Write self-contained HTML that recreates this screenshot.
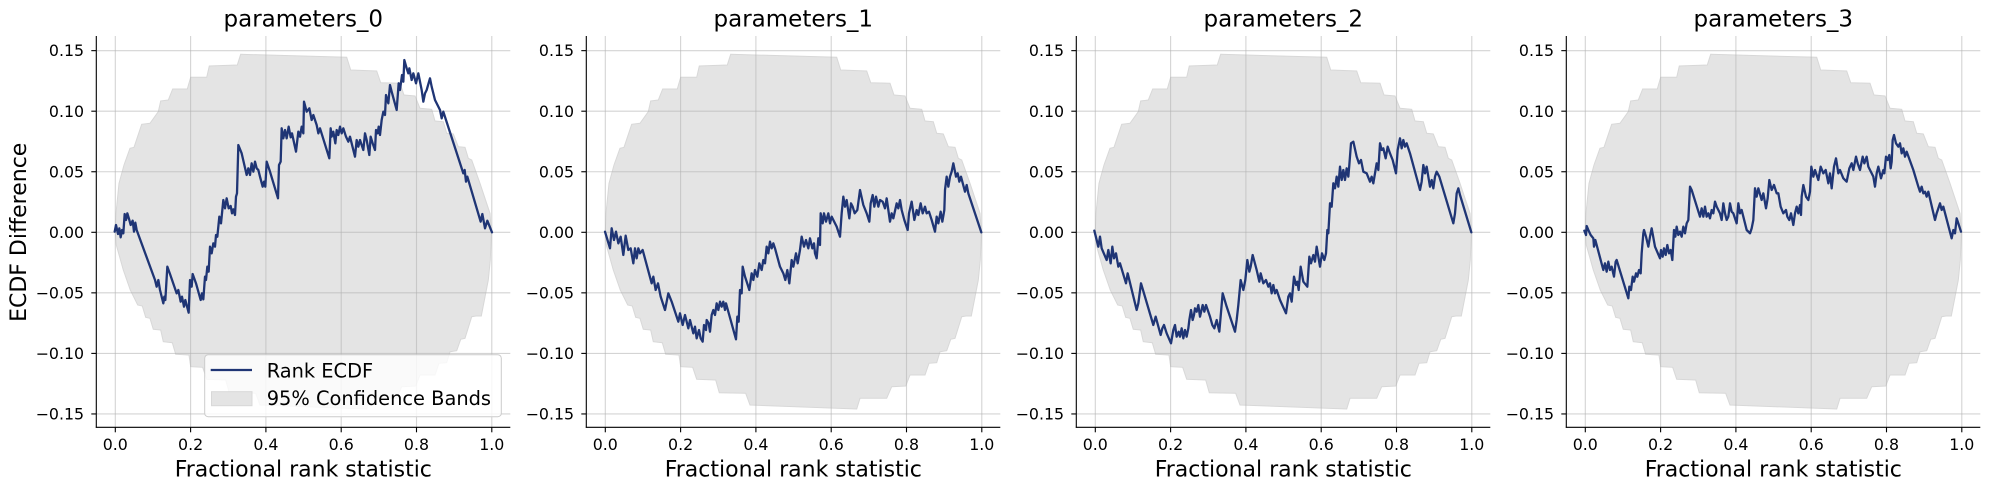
<!DOCTYPE html>
<html><head><meta charset="utf-8"><style>
html,body{margin:0;padding:0;background:#fff;}
svg{display:block;}
text{font-family:"DejaVu Sans","Liberation Sans",sans-serif;fill:#000;}
.tk{font-size:15.8px;}
.ttl{font-size:23px;}
.lbl{font-size:22px;}
.lg{font-size:19.4px;}
.grid line{stroke:#b0b0b0;stroke-opacity:0.55;stroke-width:1.1;}
.band{fill:#e4e4e4;stroke:#d8d8d8;stroke-width:1;}
.ecdf{fill:none;stroke:#1f3575;stroke-width:6.9;stroke-linejoin:round;stroke-linecap:round;}
</style></head><body>
<svg width="1990" height="490" viewBox="0 0 1990 490" xmlns="http://www.w3.org/2000/svg">
<defs>
<polygon id="bandpoly" class="band" points="0,232.3 0.7,213.3 3.7,183.3 8.7,165 14.7,148.3 18.7,147.3 26.4,124.3 34.7,123.3 43,111.7 45.4,101 53,100 57.4,89 72,89 75.4,77.3 91.4,77.3 94,66 122,65 125.4,54.3 231.4,57.3 235.4,70 261.4,71 265.4,82.7 284.7,83.3 288.7,95 299.7,96 304.7,108.3 316.4,109.3 319.7,121 328,121.7 331.4,133.3 338,134 343,146.7 349.7,147.3 353,158.3 356.4,160 364.7,183.3 374.7,213.3 376,232.3 375,260 373,280 366,316 360.7,316 356.4,316.7 349.7,338.3 345.4,339.3 341.4,350.7 334.7,351.7 331.4,362.7 323.7,363.3 319.7,375 304.7,375 300.4,386 286.4,386.7 281.4,398.3 254.7,398.3 251.4,409 144.7,405 140.4,393.3 114,392.7 110.4,380 91.4,379.3 87.4,367.3 75.4,366.7 73.7,355 60.4,354.3 57,342.7 48,341.7 45.4,330 38,329.3 34.7,318.3 30.4,317.3 27,306 22.4,305 15,290 8,270 1,245"/>
<g id="gridg" class="grid">
<line x1="19" y1="36" x2="19" y2="427.3"/>
<line x1="94.3" y1="36" x2="94.3" y2="427.3"/>
<line x1="169.6" y1="36" x2="169.6" y2="427.3"/>
<line x1="244.9" y1="36" x2="244.9" y2="427.3"/>
<line x1="320.2" y1="36" x2="320.2" y2="427.3"/>
<line x1="395.5" y1="36" x2="395.5" y2="427.3"/>
<line x1="0" y1="50.65" x2="414" y2="50.65"/>
<line x1="0" y1="111.2" x2="414" y2="111.2"/>
<line x1="0" y1="171.75" x2="414" y2="171.75"/>
<line x1="0" y1="232.3" x2="414" y2="232.3"/>
<line x1="0" y1="292.85" x2="414" y2="292.85"/>
<line x1="0" y1="353.4" x2="414" y2="353.4"/>
<line x1="0" y1="413.95" x2="414" y2="413.95"/>
</g>
<g id="axlines" stroke="#000" stroke-width="1.1" fill="none">
<line x1="0" y1="36" x2="0" y2="427.8"/>
<line x1="-0.5" y1="427.3" x2="414" y2="427.3"/>
<line x1="-5" y1="50.65" x2="0" y2="50.65"/>
<line x1="-5" y1="111.2" x2="0" y2="111.2"/>
<line x1="-5" y1="171.75" x2="0" y2="171.75"/>
<line x1="-5" y1="232.3" x2="0" y2="232.3"/>
<line x1="-5" y1="292.85" x2="0" y2="292.85"/>
<line x1="-5" y1="353.4" x2="0" y2="353.4"/>
<line x1="-5" y1="413.95" x2="0" y2="413.95"/>
<line x1="19" y1="427.3" x2="19" y2="432.3"/>
<line x1="94.3" y1="427.3" x2="94.3" y2="432.3"/>
<line x1="169.6" y1="427.3" x2="169.6" y2="432.3"/>
<line x1="244.9" y1="427.3" x2="244.9" y2="432.3"/>
<line x1="320.2" y1="427.3" x2="320.2" y2="432.3"/>
<line x1="395.5" y1="427.3" x2="395.5" y2="432.3"/>
</g>
</defs>

<!-- Panel 0 -->
<g transform="translate(96.3,0)">
<use href="#bandpoly" transform="translate(19,0)"/>
<use href="#gridg"/>
<use href="#axlines"/>
<g class="tk" text-anchor="end">
<text x="-12.2" y="56.2">0.15</text>
<text x="-12.2" y="116.75">0.10</text>
<text x="-12.2" y="177.3">0.05</text>
<text x="-12.2" y="237.85">0.00</text>
<text x="-12.2" y="298.4">−0.05</text>
<text x="-12.2" y="358.95">−0.10</text>
<text x="-12.2" y="419.5">−0.15</text>
</g>
<g class="tk" text-anchor="middle">
<text x="19" y="450">0.0</text>
<text x="94.3" y="450">0.2</text>
<text x="169.6" y="450">0.4</text>
<text x="244.9" y="450">0.6</text>
<text x="320.2" y="450">0.8</text>
<text x="395.5" y="450">1.0</text>
</g>
<text class="ttl" x="207" y="26.5" text-anchor="middle">parameters_0</text>
<text class="lbl" x="207" y="476.5" text-anchor="middle">Fractional rank statistic</text>
</g>
<g transform="translate(110,50) scale(0.333333)">
<polyline class="ecdf" points="14,545 18,525 24,552 28,535 32,562 36,540 40,550 44,492 48,510 52,490 58,510 62,525 68,512 72,545 76,518 80,540 135,690 140,710 145,690 150,720 160,760 163,740 166,750 172,650 180,672 200,730 205,720 212,755 216,740 222,770 226,750 236,788 240,690 245,710 248,672 258,700 272,750 276,730 280,748 285,680 288,690 292,650 296,665 300,590 305,610 310,580 315,590 318,555 322,560 328,500 333,520 340,450 345,475 350,445 356,475 362,468 366,490 370,478 375,495 378,440 381,430 385,285 395,310 410,375 415,355 420,375 425,340 430,365 435,335 440,355 445,360 450,380 458,410 462,395 466,410 470,335 480,365 504,445 507,345 512,335 515,235 520,265 525,240 530,265 536,230 542,262 546,250 558,305 565,245 570,260 575,230 580,250 582,155 590,185 598,175 605,210 610,195 620,225 625,250 630,235 658,325 662,235 665,260 670,245 676,280 680,240 685,255 690,230 695,250 700,235 708,260 715,275 720,260 735,320 740,270 745,290 750,270 760,300 765,250 770,270 778,315 782,260 788,280 795,300 798,240 803,250 806,230 810,255 815,210 820,185 825,195 828,135 835,160 840,105 845,125 860,180 866,100 870,120 876,75 880,95 883,30 890,55 895,70 898,55 905,90 910,70 918,100 925,70 935,120 940,155 945,130 950,120 960,85 965,110 975,150 985,170 990,180 995,205 1000,185 1008,210 1060,370 1064,360 1068,395 1072,380 1112,515 1117,492 1125,535 1132,512 1146,547"/>
</g>

<!-- Panel 1 -->
<g transform="translate(586.3,0)">
<use href="#bandpoly" transform="translate(19,0)"/>
<use href="#gridg"/>
<use href="#axlines"/>
<g class="tk" text-anchor="end">
<text x="-12.2" y="56.2">0.15</text>
<text x="-12.2" y="116.75">0.10</text>
<text x="-12.2" y="177.3">0.05</text>
<text x="-12.2" y="237.85">0.00</text>
<text x="-12.2" y="298.4">−0.05</text>
<text x="-12.2" y="358.95">−0.10</text>
<text x="-12.2" y="419.5">−0.15</text>
</g>
<g class="tk" text-anchor="middle">
<text x="19" y="450">0.0</text>
<text x="94.3" y="450">0.2</text>
<text x="169.6" y="450">0.4</text>
<text x="244.9" y="450">0.6</text>
<text x="320.2" y="450">0.8</text>
<text x="395.5" y="450">1.0</text>
</g>
<text class="ttl" x="207" y="26.5" text-anchor="middle">parameters_1</text>
<text class="lbl" x="207" y="476.5" text-anchor="middle">Fractional rank statistic</text>
</g>
<g transform="translate(500,0) scale(0.333333)">
<polyline class="ecdf" points="315,695 330,745 335,685 342,720 348,695 355,730 362,710 370,765 377,707 385,750 392,745 400,790 405,745 410,775 415,745 420,760 428,750 455,850 460,830 467,870 474,850 482,890 495,930 505,880 515,905 535,965 540,940 548,975 555,945 565,985 570,960 580,1000 585,980 590,1015 597,990 602,1015 608,1025 612,975 618,990 620,960 626,970 630,995 635,945 640,930 645,945 650,910 655,930 660,905 665,920 670,905 675,930 678,910 708,1018 712,950 716,965 720,870 725,880 728,800 735,830 740,845 748,870 755,820 760,840 765,810 772,830 778,790 785,810 790,780 795,790 800,740 805,760 810,725 815,745 820,730 825,745 840,800 850,820 856,840 862,810 868,850 875,780 880,800 888,760 893,790 900,750 905,710 912,740 918,720 925,745 930,715 937,745 942,730 945,760 950,775 955,715 960,735 962,640 968,670 972,640 978,665 985,640 990,670 995,650 1000,660 1010,680 1020,710 1025,640 1030,590 1035,620 1040,600 1048,655 1053,610 1058,620 1064,640 1072,630 1080,570 1090,615 1100,640 1108,665 1112,610 1118,585 1123,620 1128,590 1135,620 1140,600 1148,605 1155,625 1160,595 1170,665 1175,640 1180,655 1190,610 1195,625 1200,600 1205,630 1213,660 1223,690 1227,640 1235,605 1243,660 1250,630 1255,645 1262,610 1268,640 1275,620 1280,640 1287,635 1295,660 1305,695 1310,650 1315,670 1322,635 1327,665 1333,630 1335,570 1340,530 1345,560 1350,530 1355,515 1360,490 1368,530 1373,520 1378,545 1383,530 1395,575 1400,555 1405,580 1444,697"/>
</g>

<!-- Panel 2 -->
<g transform="translate(1076.3,0)">
<use href="#bandpoly" transform="translate(19,0)"/>
<use href="#gridg"/>
<use href="#axlines"/>
<g class="tk" text-anchor="end">
<text x="-12.2" y="56.2">0.15</text>
<text x="-12.2" y="116.75">0.10</text>
<text x="-12.2" y="177.3">0.05</text>
<text x="-12.2" y="237.85">0.00</text>
<text x="-12.2" y="298.4">−0.05</text>
<text x="-12.2" y="358.95">−0.10</text>
<text x="-12.2" y="419.5">−0.15</text>
</g>
<g class="tk" text-anchor="middle">
<text x="19" y="450">0.0</text>
<text x="94.3" y="450">0.2</text>
<text x="169.6" y="450">0.4</text>
<text x="244.9" y="450">0.6</text>
<text x="320.2" y="450">0.8</text>
<text x="395.5" y="450">1.0</text>
</g>
<text class="ttl" x="207" y="26.5" text-anchor="middle">parameters_2</text>
<text class="lbl" x="207" y="476.5" text-anchor="middle">Fractional rank statistic</text>
</g>
<g transform="translate(990,0) scale(0.333333)">
<polyline class="ecdf" points="313,692 325,740 330,710 335,745 350,780 355,750 362,790 367,740 372,775 378,760 385,800 390,790 408,850 413,820 440,930 445,910 453,850 490,975 497,950 512,1005 517,985 522,975 530,1000 543,1030 550,990 555,975 560,1010 566,995 570,1010 575,985 580,1015 585,990 590,1010 595,985 598,960 603,930 608,960 612,945 615,925 620,935 625,915 630,950 638,915 643,935 648,915 660,950 667,975 673,985 680,960 688,995 698,880 710,920 735,995 740,960 745,915 752,840 760,870 766,840 772,780 778,815 782,800 788,765 800,810 808,845 812,820 820,850 828,840 835,860 840,850 845,880 850,855 855,880 860,870 870,900 888,940 895,890 900,880 905,905 912,830 918,855 922,845 926,870 932,800 940,845 952,860 958,770 963,790 970,765 975,785 980,740 985,770 990,800 996,760 1003,780 1008,760 1012,690 1015,700 1020,610 1025,620 1030,550 1035,565 1040,530 1045,560 1050,500 1055,540 1060,510 1065,540 1070,505 1075,530 1078,495 1083,430 1090,425 1100,470 1107,490 1113,480 1120,515 1130,520 1140,545 1145,530 1150,550 1160,490 1165,510 1170,430 1175,450 1180,445 1187,475 1193,440 1200,460 1208,480 1218,520 1223,450 1230,415 1235,445 1240,420 1245,440 1250,430 1260,460 1290,570 1295,545 1300,495 1305,520 1310,500 1320,560 1325,540 1330,565 1335,530 1340,515 1348,530 1390,670 1395,640 1400,580 1405,565 1410,585 1444,697"/>
</g>

<!-- Panel 3 -->
<g transform="translate(1566.3,0)">
<use href="#bandpoly" transform="translate(19,0)"/>
<use href="#gridg"/>
<use href="#axlines"/>
<g class="tk" text-anchor="end">
<text x="-12.2" y="56.2">0.15</text>
<text x="-12.2" y="116.75">0.10</text>
<text x="-12.2" y="177.3">0.05</text>
<text x="-12.2" y="237.85">0.00</text>
<text x="-12.2" y="298.4">−0.05</text>
<text x="-12.2" y="358.95">−0.10</text>
<text x="-12.2" y="419.5">−0.15</text>
</g>
<g class="tk" text-anchor="middle">
<text x="19" y="450">0.0</text>
<text x="94.3" y="450">0.2</text>
<text x="169.6" y="450">0.4</text>
<text x="244.9" y="450">0.6</text>
<text x="320.2" y="450">0.8</text>
<text x="395.5" y="450">1.0</text>
</g>
<text class="ttl" x="207" y="26.5" text-anchor="middle">parameters_3</text>
<text class="lbl" x="207" y="476.5" text-anchor="middle">Fractional rank statistic</text>
</g>
<g transform="translate(1470,0) scale(0.333333)">
<polyline class="ecdf" points="343,692 348,705 350,678 355,690 362,705 370,715 372,740 376,720 400,810 405,790 410,815 415,785 420,810 425,800 432,830 437,785 440,780 475,895 478,860 483,870 488,830 492,845 498,820 502,830 507,810 512,820 515,760 520,700 522,690 528,710 535,740 540,710 545,685 555,740 570,775 573,750 578,770 582,745 587,765 592,735 597,760 602,750 607,780 612,690 616,710 620,680 625,705 630,695 635,710 640,680 645,700 650,670 655,660 660,560 665,570 690,650 695,625 700,650 705,620 710,650 715,640 720,655 725,630 730,640 735,605 740,620 745,630 750,640 755,660 760,610 765,640 770,660 775,650 780,610 785,635 790,640 800,670 805,610 810,640 815,630 820,650 825,670 830,690 840,700 845,685 850,660 855,565 860,590 865,565 875,600 880,580 888,625 893,595 898,540 905,570 912,555 920,580 925,580 932,620 940,640 948,630 952,650 958,660 963,640 970,675 975,640 980,620 985,640 990,615 993,645 995,590 1000,555 1008,590 1015,600 1020,575 1024,500 1030,530 1035,510 1045,540 1052,500 1060,520 1067,510 1075,550 1080,520 1085,565 1092,500 1098,475 1105,520 1110,510 1120,535 1130,545 1138,505 1145,490 1150,510 1158,470 1163,490 1170,510 1178,470 1183,490 1190,470 1195,500 1210,530 1215,560 1220,520 1225,500 1233,535 1240,510 1243,520 1248,470 1253,480 1258,465 1262,505 1265,485 1268,420 1272,405 1278,430 1285,440 1290,430 1295,460 1300,445 1305,470 1310,455 1330,510 1345,560 1350,575 1355,560 1360,580 1365,575 1370,590 1375,575 1395,660 1400,640 1410,610 1415,630 1420,620 1445,715 1450,690 1455,700 1460,655 1465,670 1473,695"/>
</g>

<!-- Y label -->
<text class="lbl" transform="translate(26,232.3) rotate(-90)" text-anchor="middle">ECDF Difference</text>

<!-- Legend (panel 0) -->
<rect x="204.7" y="354.7" width="296.6" height="62" rx="3.5" ry="3.5" fill="#ffffff" fill-opacity="0.8" stroke="#cccccc" stroke-width="1"/>
<line x1="210.7" y1="370" x2="252" y2="370" stroke="#1f3575" stroke-width="2.3"/>
<rect x="211.5" y="391.7" width="40.5" height="14" class="band"/>
<text class="lg" x="266.7" y="377.3">Rank ECDF</text>
<text class="lg" x="266.7" y="405">95% Confidence Bands</text>
</svg>
</body></html>
